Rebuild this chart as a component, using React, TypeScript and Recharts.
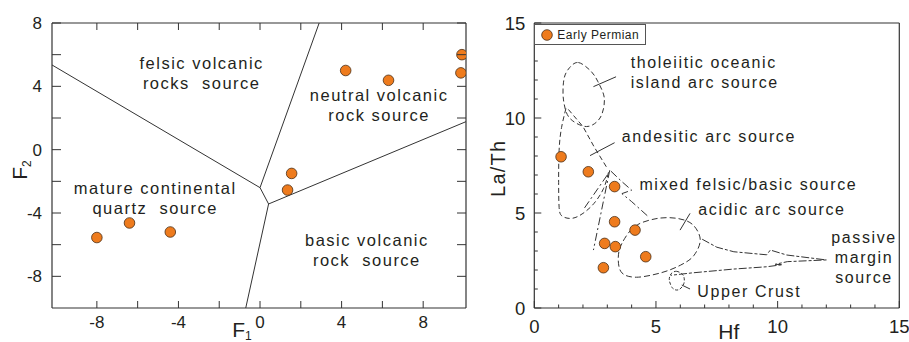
import React from 'react';
import { ScatterChart, Scatter, XAxis, YAxis, ReferenceLine, Legend } from 'recharts';

const FONT = '"Liberation Sans", Arial, Helvetica, sans-serif';
const INK = '#231f20';
const LINE = '#333333';
const ORANGE = '#EE7B1D';
const SERIES = 'Early Permian';

// ---------- left diagram: discriminant functions F1 / F2 ----------
const f1Values = [-8.0, -6.4, -4.4, 1.35, 1.55, 4.2, 6.3, 9.9, 9.85];
const f2Values = [-5.55, -4.63, -5.2, -2.55, -1.5, 5.0, 4.38, 6.0, 4.85];
const f1Domain = [-10.2, 10.1];
const f2Domain = [-10, 8];
const f1Ticks = [-8, -6, -4, -2, 0, 2, 4, 6, 8];
const f1Labels = [-8, -4, 0, 4, 8];
const f2Ticks = [-8, -6, -4, -2, 0, 2, 4, 6, 8];
const f2Labels = [-8, -4, 0, 4, 8];

type Pt = [number, number];

// field boundaries, [F1, F2]
const boundaries: Pt[][] = [
  [[-10.2, 5.35], [0, -2.4]],
  [[0, -2.4], [2.9, 8]],
  [[0, -2.4], [0.42, -3.43]],
  [[0.42, -3.43], [10.1, 1.77]],
  [[0.42, -3.43], [-0.7, -10]],
];

const leftFields = [
  { x: -2.86, y: 5.1, anchor: 'middle', lines: ['felsic volcanic', 'rocks  source'] },
  { x: 5.84, y: 3.07, anchor: 'middle', lines: ['neutral volcanic', 'rock source'] },
  { x: -5.14, y: -2.82, anchor: 'middle', lines: ['mature continental', 'quartz  source'] },
  { x: 5.24, y: -6.08, anchor: 'middle', lines: ['basic volcanic', 'rock  source'] },
];

// ---------- right diagram: Hf vs La/Th ----------
const hfValues = [1.1, 2.22, 3.3, 3.3, 4.14, 2.89, 3.33, 4.58, 2.84];
const laThValues = [7.96, 7.17, 6.39, 4.54, 4.1, 3.4, 3.23, 2.7, 2.12];
const hfDomain = [0, 15];
const laThDomain = [0, 15];
const hfTicks = [0, 1, 2, 3, 4, 5, 6, 7, 8, 9, 10, 11, 12, 13, 14, 15];
const hfLabels = [0, 5, 10, 15];
const laThTicks = [0, 1, 2, 3, 4, 5, 6, 7, 8, 9, 10, 11, 12, 13, 14, 15];
const laThLabels = [0, 5, 10, 15];

// source fields, [Hf, La/Th]
const tholeiiticLoop: Pt[] = [
  [1.81, 12.92], [2.3, 12.5], [2.62, 11.9], [2.88, 11.0], [2.7, 10.0],
  [2.15, 9.55], [1.45, 10.0], [1.2, 10.95], [1.22, 12.05], [1.45, 12.65],
];
const andesiticLeft: Pt[] = [
  [1.3, 10.5], [1.12, 9.5], [1.02, 8.3], [1.0, 6.6], [1.02, 5.3], [1.15, 4.83],
  [1.55, 4.72], [2.0, 4.98], [2.45, 5.5], [2.85, 6.3], [3.05, 7.15],
];
const andesiticRight: Pt[] = [[1.4, 10.45], [2.0, 9.55], [2.45, 8.5], [3.0, 7.35]];
const mixedLeft: Pt[] = [[3.1, 7.25], [2.43, 3.05]];
const mixedInner: Pt[] = [[3.0, 7.0], [2.0, 5.15]];
const mixedRight: Pt[] = [[3.15, 7.2], [3.6, 6.65], [4.0, 6.2], [3.6, 6.02], [4.0, 5.6], [4.65, 4.85]];
const acidicLoop: Pt[] = [
  [4.14, 4.3], [5.0, 4.7], [5.85, 4.72], [6.5, 4.4], [6.82, 3.6], [6.55, 2.75],
  [6.0, 2.25], [5.2, 1.85], [4.2, 1.62], [3.6, 1.85], [3.45, 2.6], [3.6, 3.4],
];
const upperCrustLoop: Pt[] = [
  [5.85, 1.93], [6.12, 1.72], [6.15, 1.3], [5.95, 0.97], [5.7, 1.02], [5.55, 1.45], [5.62, 1.8],
];
const passiveMargin: Pt[] = [
  [6.9, 3.62], [7.5, 3.2], [8.2, 2.96], [9.55, 2.8], [9.7, 3.05], [10.37, 2.79], [12.0, 2.53],
  [10.4, 2.44], [9.9, 2.3], [10.2, 2.28], [9.55, 2.17], [8.2, 2.05], [6.5, 1.85], [5.6, 1.72],
];
const pointers: Pt[][] = [
  [[2.43, 11.65], [3.36, 12.17]],
  [[2.29, 8.02], [3.3, 8.7]],
  [[5.99, 4.1], [6.4, 4.98]],
  [[6.06, 1.21], [6.4, 1.0]],
];

const rightFields = [
  { x: 3.96, y: 12.62, anchor: 'start', lines: ['tholeiitic oceanic', 'island arc source'] },
  { x: 3.59, y: 8.75, anchor: 'start', lines: ['andesitic arc source'] },
  { x: 4.32, y: 6.21, anchor: 'start', lines: ['mixed felsic/basic source'] },
  { x: 6.74, y: 4.89, anchor: 'start', lines: ['acidic arc source'] },
  { x: 13.55, y: 3.41, anchor: 'middle', lines: ['passive', 'margin', 'source'] },
  { x: 6.7, y: 0.59, anchor: 'start', lines: ['Upper Crust'] },
];

const zipXY = (xs: number[], ys: number[]) => xs.map((x, i) => ({ x, y: ys[i] }));
const toXY = (pts: Pt[]) => pts.map(([x, y]) => ({ x, y }));

const smoothClosed = (ctx: any) => {
  let pts: number[][] = [];
  return {
    areaStart() {},
    areaEnd() {},
    lineStart() { pts = []; },
    point(x: number, y: number) { pts.push([x, y]); },
    lineEnd() {
      const n = pts.length;
      if (n < 3) return;
      const p = (i: number) => pts[(i + n) % n];
      ctx.moveTo(pts[0][0], pts[0][1]);
      for (let i = 0; i < n; i++) {
        const a = p(i - 1), b = p(i), c = p(i + 1), d = p(i + 2);
        ctx.bezierCurveTo(
          b[0] + (c[0] - a[0]) / 6, b[1] + (c[1] - a[1]) / 6,
          c[0] - (d[0] - b[0]) / 6, c[1] - (d[1] - b[1]) / 6,
          c[0], c[1],
        );
      }
      ctx.closePath();
    },
  };
};

const Dot = (props: any) => (
  <circle cx={props.cx} cy={props.cy} r={5.3} fill={ORANGE} stroke="#4a2e16" strokeWidth={0.8} />
);
const NoDot = () => <g />;

type TickCfg = { side: 'left' | 'right' | 'top' | 'bottom'; labels: number[]; major: number; minor: number; size: number; gap: number };

const makeTick = (cfg: TickCfg) => (props: any) => {
  const { x, y, payload } = props;
  const v = payload.value;
  const isMajor = cfg.labels.includes(v);
  const len = isMajor ? cfg.major : cfg.minor;
  const txt = { fontFamily: FONT, fontSize: cfg.size, fill: INK };
  if (cfg.side === 'left') {
    return (
      <g>
        <line x1={x} y1={y} x2={x + len} y2={y} stroke={LINE} />
        {isMajor && <text x={x - cfg.gap} y={y + cfg.size * 0.36} textAnchor="end" {...txt}>{v}</text>}
      </g>
    );
  }
  if (cfg.side === 'right') return <line x1={x} y1={y} x2={x - len} y2={y} stroke={LINE} />;
  if (cfg.side === 'top') return <line x1={x} y1={y} x2={x} y2={y + len} stroke={LINE} />;
  return (
    <g>
      <line x1={x} y1={y} x2={x} y2={y - len} stroke={LINE} />
      {isMajor && <text x={x} y={y + cfg.gap} textAnchor="middle" {...txt}>{v}</text>}
    </g>
  );
};

const fieldText = (size: number, spacing: number) => (props: any) => {
  const { cx, cy, payload } = props;
  return (
    <text x={cx} y={cy} textAnchor={payload.anchor} fontFamily={FONT} fontSize={size} fill={INK}
      style={{ whiteSpace: 'pre', letterSpacing: spacing }}>
      {payload.lines.map((t: string, i: number) => (
        <tspan key={i} x={cx} dy={i === 0 ? 0 : 20}>{t}</tspan>
      ))}
    </text>
  );
};

const F1Title = (p: any) => {
  const { x, y, width } = p.viewBox;
  return (
    <text x={x + width / 2 - 17} y={y + 29} textAnchor="middle" fontFamily={FONT} fontSize={21} fill={INK}>
      F<tspan fontSize={12} dy={3}>1</tspan>
    </text>
  );
};

const F2Title = (p: any) => {
  const { x, y, height } = p.viewBox;
  const cx = x + 20;
  const cy = y + height / 2 + 4.5;
  return (
    <text x={cx} y={cy} transform={`rotate(-90 ${cx} ${cy})`} textAnchor="middle" fontFamily={FONT} fontSize={21} fill={INK}>
      F<tspan fontSize={12} dy={4}>2</tspan>
    </text>
  );
};

const HfTitle = (p: any) => {
  const { x, y, width } = p.viewBox;
  return (
    <text x={x + width / 2 + 12} y={y + 31} textAnchor="middle" fontFamily={FONT} fontSize={21} fill={INK}>Hf</text>
  );
};

const LaThTitle = (p: any) => {
  const { x, y, height } = p.viewBox;
  const cx = x + 15.7;
  const cy = y + height / 2 + 2.8;
  return (
    <text x={cx} y={cy} transform={`rotate(-90 ${cx} ${cy})`} textAnchor="middle" fontFamily={FONT} fontSize={20}
      fill={INK} style={{ letterSpacing: 1.2 }}>La/Th</text>
  );
};

const LegendBox = (props: any) => (
  <div style={{
    width: 112, height: 21, boxSizing: 'border-box', border: '1px solid #555', background: '#fff',
    display: 'flex', alignItems: 'center', fontFamily: FONT, fontSize: 12, color: INK, letterSpacing: 0.5,
  }}>
    {(props.payload || []).filter((it: any) => it.value === SERIES).map((it: any) => (
      <span key={it.value} style={{ display: 'flex', alignItems: 'center' }}>
        <svg width={22} height={14}>
          <circle cx={12} cy={7} r={5.3} fill={ORANGE} stroke="#4a2e16" strokeWidth={0.8} />
        </svg>
        {it.value}
      </span>
    ))}
  </div>
);

const axisLine = { stroke: LINE, strokeWidth: 1.2 };
const outline = (dash: string) => ({ stroke: LINE, strokeWidth: 1, strokeDasharray: dash });

const LeftPanel = () => (
  <ScatterChart width={480} height={342} margin={{ top: 21, right: 12, bottom: 4, left: 7 }}>
    <XAxis xAxisId="b" type="number" dataKey="x" domain={f1Domain} ticks={f1Ticks} interval={0} allowDataOverflow
      height={30} tickSize={0} tickMargin={0} tickLine={false} axisLine={axisLine}
      tick={makeTick({ side: 'bottom', labels: f1Labels, major: 7, minor: 7, size: 17, gap: 19.5 })}
      label={{ content: F1Title }} />
    <XAxis xAxisId="t" orientation="top" type="number" dataKey="x" domain={f1Domain} ticks={f1Ticks} interval={0}
      allowDataOverflow height={2} tickSize={0} tickMargin={0} tickLine={false} axisLine={axisLine}
      tick={makeTick({ side: 'top', labels: f1Labels, major: 7, minor: 7, size: 17, gap: 0 })} />
    <YAxis yAxisId="l" type="number" dataKey="y" domain={f2Domain} ticks={f2Ticks} interval={0} allowDataOverflow
      width={45} tickSize={0} tickMargin={0} tickLine={false} axisLine={axisLine}
      tick={makeTick({ side: 'left', labels: f2Labels, major: 9, minor: 9, size: 17, gap: 10 })}
      label={{ content: F2Title }} />
    <YAxis yAxisId="r" orientation="right" type="number" dataKey="y" domain={f2Domain} ticks={f2Ticks} interval={0}
      allowDataOverflow width={2} tickSize={0} tickMargin={0} tickLine={false} axisLine={axisLine}
      tick={makeTick({ side: 'right', labels: f2Labels, major: 9, minor: 9, size: 17, gap: 0 })} />
    {boundaries.map((seg, i) => (
      <ReferenceLine key={i} xAxisId="b" yAxisId="l" ifOverflow="visible" stroke={LINE} strokeWidth={1}
        segment={seg.map(([x, y]) => ({ x, y }))} />
    ))}
    <Scatter xAxisId="b" yAxisId="l" name="fields" data={leftFields} shape={fieldText(16.5, 1.5)}
      legendType="none" isAnimationActive={false} />
    <Scatter xAxisId="b" yAxisId="l" name={SERIES} data={zipXY(f1Values, f2Values)} shape={Dot}
      isAnimationActive={false} />
  </ScatterChart>
);

const RightPanel = () => (
  <ScatterChart width={429} height={342} margin={{ top: 21, right: 7.7, bottom: 4, left: 9.3 }}>
    <XAxis xAxisId="b" type="number" dataKey="x" domain={hfDomain} ticks={hfTicks} interval={0} allowDataOverflow
      height={30} tickSize={0} tickMargin={0} tickLine={false} axisLine={axisLine}
      tick={makeTick({ side: 'bottom', labels: hfLabels, major: 7, minor: 3.5, size: 18.5, gap: 25 })}
      label={{ content: HfTitle }} />
    <XAxis xAxisId="t" orientation="top" type="number" dataKey="x" domain={hfDomain} allowDataOverflow
      height={2} tick={false} tickLine={false} axisLine={axisLine} />
    <YAxis yAxisId="l" type="number" dataKey="y" domain={laThDomain} ticks={laThTicks} interval={0} allowDataOverflow
      width={45} tickSize={0} tickMargin={0} tickLine={false} axisLine={axisLine}
      tick={makeTick({ side: 'left', labels: laThLabels, major: 7, minor: 3.5, size: 18.5, gap: 9 })}
      label={{ content: LaThTitle }} />
    <YAxis yAxisId="r" orientation="right" type="number" dataKey="y" domain={laThDomain} allowDataOverflow
      width={2} tick={false} tickLine={false} axisLine={axisLine} />
    {pointers.map((seg, i) => (
      <ReferenceLine key={i} xAxisId="b" yAxisId="l" ifOverflow="visible" stroke={LINE} strokeWidth={1}
        segment={seg.map(([x, y]) => ({ x, y }))} />
    ))}
    <Scatter xAxisId="b" yAxisId="l" name="tholeiitic" data={toXY(tholeiiticLoop)} shape={NoDot} legendType="none"
      line={outline('5 3')} lineType="joint" lineJointType={smoothClosed as any} isAnimationActive={false} />
    <Scatter xAxisId="b" yAxisId="l" name="andesitic" data={toXY(andesiticLeft)} shape={NoDot} legendType="none"
      line={outline('5 3')} lineType="joint" lineJointType="natural" isAnimationActive={false} />
    <Scatter xAxisId="b" yAxisId="l" name="andesitic2" data={toXY(andesiticRight)} shape={NoDot} legendType="none"
      line={outline('5 3')} lineType="joint" lineJointType="linear" isAnimationActive={false} />
    <Scatter xAxisId="b" yAxisId="l" name="mixed1" data={toXY(mixedLeft)} shape={NoDot} legendType="none"
      line={outline('8 3 2 3')} lineType="joint" lineJointType="linear" isAnimationActive={false} />
    <Scatter xAxisId="b" yAxisId="l" name="mixed2" data={toXY(mixedInner)} shape={NoDot} legendType="none"
      line={outline('8 3 2 3')} lineType="joint" lineJointType="linear" isAnimationActive={false} />
    <Scatter xAxisId="b" yAxisId="l" name="mixed3" data={toXY(mixedRight)} shape={NoDot} legendType="none"
      line={outline('8 3 2 3')} lineType="joint" lineJointType="linear" isAnimationActive={false} />
    <Scatter xAxisId="b" yAxisId="l" name="acidic" data={toXY(acidicLoop)} shape={NoDot} legendType="none"
      line={outline('6 3')} lineType="joint" lineJointType={smoothClosed as any} isAnimationActive={false} />
    <Scatter xAxisId="b" yAxisId="l" name="upper crust" data={toXY(upperCrustLoop)} shape={NoDot} legendType="none"
      line={outline('3 2')} lineType="joint" lineJointType={smoothClosed as any} isAnimationActive={false} />
    <Scatter xAxisId="b" yAxisId="l" name="passive" data={toXY(passiveMargin)} shape={NoDot} legendType="none"
      line={outline('8 2 3 2')} lineType="joint" lineJointType="linear" isAnimationActive={false} />
    <Scatter xAxisId="b" yAxisId="l" name="fields" data={rightFields} shape={fieldText(16, 1.6)}
      legendType="none" isAnimationActive={false} />
    <Scatter xAxisId="b" yAxisId="l" name={SERIES} data={zipXY(hfValues, laThValues)} shape={Dot}
      isAnimationActive={false} />
    <Legend layout="vertical" align="center" verticalAlign="middle" content={LegendBox}
      wrapperStyle={{ left: 54.3, top: 24.3, width: 112, height: 21 }} />
  </ScatterChart>
);

export default function App() {
  return (
    <div style={{ position: 'absolute', left: 0, top: 0, width: 909, height: 342, background: '#fff', overflow: 'hidden' }}>
      <div style={{ position: 'absolute', left: 0, top: 0 }}>
        <LeftPanel />
      </div>
      <div style={{ position: 'absolute', left: 480, top: 0 }}>
        <RightPanel />
      </div>
    </div>
  );
}
